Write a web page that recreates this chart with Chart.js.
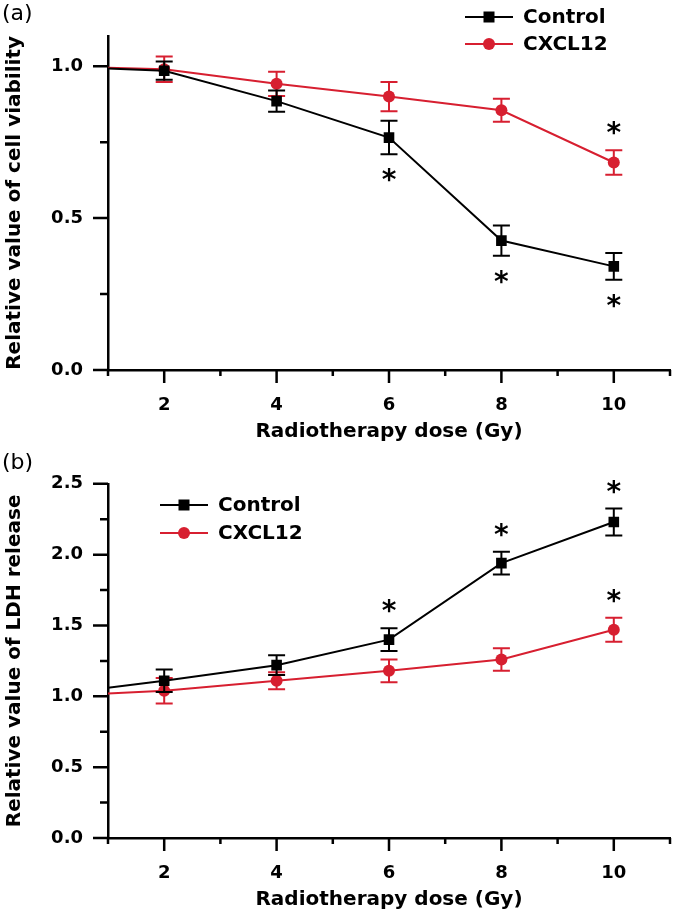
<!DOCTYPE html>
<html>
<head>
<meta charset="utf-8">
<script src="https://cdn.jsdelivr.net/npm/chart.js@4.4.1/dist/chart.umd.min.js"></script>
<style>
  body { margin: 0; background: #fff; }
  canvas { display: block; }
</style>
</head>
<body>
<canvas id="chartA" width="680" height="448"></canvas>
<canvas id="chartB" width="680" height="468"></canvas>
<script>
// dose 0 is the untreated baseline, it sits left of the axis and is clipped
const doses = [0, 2, 4, 6, 8, 10];
const seriesNames = ["Control", "CXCL12"];
const xTicks = [2, 4, 6, 8, 10];

const viabilityControl = [1.0, 0.985, 0.885, 0.765, 0.426, 0.341];
const viabilityControlErr = [0, 0.03, 0.035, 0.055, 0.05, 0.044];
const viabilityCxcl12 = [1.0, 0.99, 0.942, 0.90, 0.855, 0.683];
const viabilityCxcl12Err = [0, 0.042, 0.04, 0.048, 0.038, 0.04];

const ldhControl = [1.01, 1.11, 1.22, 1.40, 1.94, 2.23];
const ldhControlErr = [0, 0.08, 0.07, 0.08, 0.08, 0.095];
const ldhCxcl12 = [1.0, 1.04, 1.11, 1.18, 1.26, 1.47];
const ldhCxcl12Err = [0, 0.09, 0.06, 0.08, 0.08, 0.085];

// significance marks: series index, dose, above or below the error bar
const starsA = [
  { series: 0, dose: 6, side: "below" },
  { series: 0, dose: 8, side: "below" },
  { series: 0, dose: 10, side: "below" },
  { series: 1, dose: 10, side: "above" }
];
const starsB = [
  { series: 0, dose: 6, side: "above" },
  { series: 0, dose: 8, side: "above" },
  { series: 0, dose: 10, side: "above" },
  { series: 1, dose: 10, side: "above" }
];

const FONT = "'DejaVu Sans', sans-serif";
const BLACK = "#000000";
const RED = "#d71f30";

function points(ys) {
  return doses.map((d, i) => ({ x: d, y: ys[i] }));
}

function drawMarker(ctx, style, color, x, y) {
  ctx.fillStyle = color;
  if (style === "rect") {
    ctx.fillRect(x - 5.5, y - 5.5, 11, 11);
  } else {
    ctx.beginPath();
    ctx.arc(x, y, 6, 0, Math.PI * 2);
    ctx.fill();
  }
}

const decor = {
  id: "decor",
  beforeDatasetDraw(chart, args) {
    const ds = chart.data.datasets[args.index];
    const yScale = chart.scales.y;
    const ctx = chart.ctx;
    const area = chart.chartArea;
    ctx.save();
    ctx.strokeStyle = ds.borderColor;
    ctx.lineWidth = 2;
    args.meta.data.forEach((pt, i) => {
      const e = ds.errors[i];
      if (!e || pt.x < area.left) return;
      const v = ds.data[i].y;
      const yt = yScale.getPixelForValue(v + e);
      const yb = yScale.getPixelForValue(v - e);
      ctx.beginPath();
      ctx.moveTo(pt.x, yt); ctx.lineTo(pt.x, yb);
      ctx.moveTo(pt.x - 8.5, yt); ctx.lineTo(pt.x + 8.5, yt);
      ctx.moveTo(pt.x - 8.5, yb); ctx.lineTo(pt.x + 8.5, yb);
      ctx.stroke();
    });
    ctx.restore();
  },
  afterDraw(chart, args, opts) {
    const ctx = chart.ctx;
    const xs = chart.scales.x, ys = chart.scales.y;
    ctx.save();
    ctx.strokeStyle = BLACK;
    ctx.lineWidth = 2.5;

    // axis ticks, long for labelled values, short between
    ctx.beginPath();
    xs.ticks.forEach((t, i) => {
      const px = xs.getPixelForTick(i);
      const len = t.value % 2 === 0 ? 13 : 6;
      ctx.moveTo(px, ys.bottom); ctx.lineTo(px, ys.bottom + len);
    });
    ys.ticks.forEach((t, i) => {
      const py = ys.getPixelForTick(i);
      const major = Math.abs(t.value * 2 - Math.round(t.value * 2)) < 1e-6;
      const len = major ? 15 : 8;
      ctx.moveTo(xs.left, py); ctx.lineTo(xs.left - len, py);
    });
    ctx.stroke();

    // error bar stars
    ctx.fillStyle = BLACK;
    ctx.font = "bold 28px " + FONT;
    ctx.textAlign = "center";
    ctx.textBaseline = "alphabetic";
    const m = ctx.measureText("*");
    const glyphMid = (m.actualBoundingBoxAscent - m.actualBoundingBoxDescent) / 2;
    opts.stars.forEach(s => {
      const ds = chart.data.datasets[s.series];
      const i = doses.indexOf(s.dose);
      const v = ds.data[i].y, e = ds.errors[i];
      const px = xs.getPixelForValue(s.dose);
      const py = s.side === "above"
        ? ys.getPixelForValue(v + e) - 22
        : ys.getPixelForValue(v - e) + 21;
      ctx.fillText("*", px, py + glyphMid);
    });

    // legend
    const lg = opts.legend;
    ctx.font = "bold 20px " + FONT;
    ctx.textAlign = "left";
    ctx.textBaseline = "middle";
    chart.data.datasets.forEach((ds, k) => {
      const y = lg.y + k * lg.dy;
      ctx.strokeStyle = ds.borderColor;
      ctx.lineWidth = 2;
      ctx.beginPath();
      ctx.moveTo(lg.x, y); ctx.lineTo(lg.x + 48, y);
      ctx.stroke();
      drawMarker(ctx, ds.pointStyle, ds.borderColor, lg.x + 24, y);
      ctx.fillStyle = BLACK;
      ctx.fillText(ds.label, lg.x + 58, y + 1);
    });

    // panel letter
    ctx.font = "22px " + FONT;
    ctx.fillText(opts.letter, 2, opts.letterY);
    ctx.restore();
  }
};

function makeChart(id, cfg) {
  const datasets = cfg.series.map((s, k) => ({
    label: seriesNames[k],
    data: points(s.values),
    errors: s.errors,
    borderColor: s.color,
    backgroundColor: s.color,
    borderWidth: 2,
    pointStyle: s.style,
    pointRadius: s.style === "rect" ? 7.5 : 6,
    pointBorderWidth: 0,
    tension: 0
  }));
  return new Chart(document.getElementById(id), {
    type: "line",
    data: { datasets },
    options: {
      responsive: false,
      animation: false,
      layout: { padding: { top: cfg.top, right: 10, left: 0, bottom: 0 } },
      plugins: {
        legend: { display: false },
        tooltip: { enabled: false },
        decor: { stars: cfg.stars, legend: cfg.legend, letter: cfg.letter, letterY: cfg.letterY }
      },
      scales: {
        x: {
          type: "linear",
          min: 1,
          max: 11,
          afterFit: s => { s.height = 78; s.paddingLeft = 0; s.paddingRight = 0; },
          grid: { drawOnChartArea: false, drawTicks: false },
          border: { color: BLACK, width: 2.5 },
          ticks: {
            stepSize: 1,
            padding: 25,
            color: BLACK,
            font: { family: FONT, size: 18, weight: "bold" },
            callback: v => (xTicks.includes(v) ? String(v) : "")
          },
          title: {
            display: true,
            text: "Radiotherapy dose (Gy)",
            color: BLACK,
            font: { family: FONT, size: 20, weight: "bold" },
            padding: { top: 0, bottom: cfg.titlePad }
          }
        },
        y: {
          min: 0,
          max: cfg.yMax,
          afterFit: s => { s.width = 108; },
          grid: { drawOnChartArea: false, drawTicks: false },
          border: { color: BLACK, width: 2.5 },
          ticks: {
            stepSize: 0.25,
            includeBounds: false,
            padding: 25,
            color: BLACK,
            font: { family: FONT, size: 18, weight: "bold" },
            callback: v => (Math.abs(v * 2 - Math.round(v * 2)) < 1e-6 ? v.toFixed(1) : "")
          },
          title: {
            display: true,
            text: cfg.yTitle,
            color: BLACK,
            font: { family: FONT, size: 20, weight: "bold" },
            padding: { top: 3, bottom: 0 }
          }
        }
      }
    },
    plugins: [decor]
  });
}

makeChart("chartA", {
  yMax: 1.1,
  top: 6,
  titlePad: 4,
  yTitle: "Relative value of cell viability",
  letter: "(a)",
  letterY: 14,
  stars: starsA,
  legend: { x: 465, y: 17, dy: 27 },
  series: [
    { values: viabilityControl, errors: viabilityControlErr, color: BLACK, style: "rect" },
    { values: viabilityCxcl12, errors: viabilityCxcl12Err, color: RED, style: "circle" }
  ]
});

makeChart("chartB", {
  yMax: 2.5,
  top: 26,
  titlePad: 4,
  yTitle: "Relative value of LDH release",
  letter: "(b)",
  letterY: 15,
  stars: starsB,
  legend: { x: 160, y: 57, dy: 28 },
  series: [
    { values: ldhControl, errors: ldhControlErr, color: BLACK, style: "rect" },
    { values: ldhCxcl12, errors: ldhCxcl12Err, color: RED, style: "circle" }
  ]
});
</script>
</body>
</html>
